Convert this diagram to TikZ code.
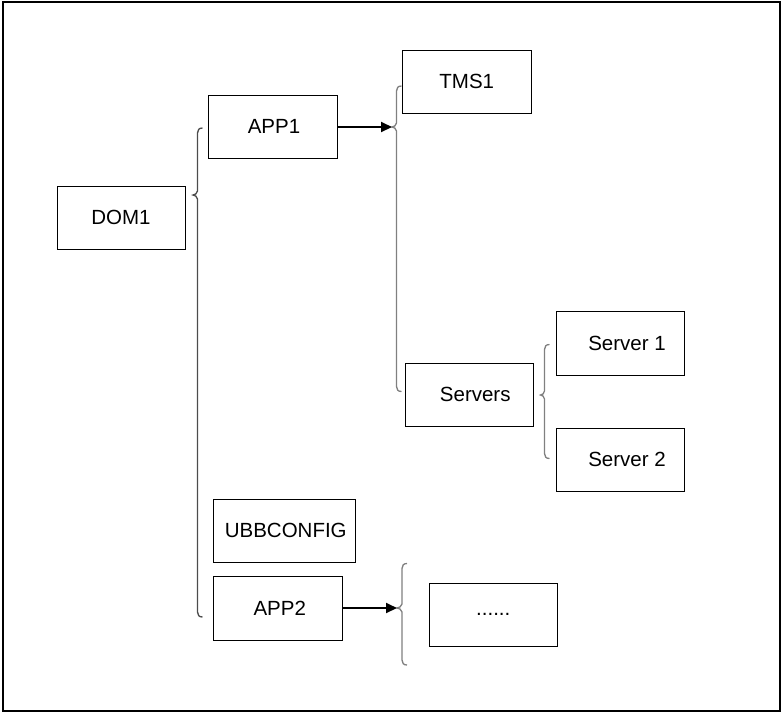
\documentclass[tikz,border=0pt]{standalone}
\usepackage{fontspec}
\setmainfont{Liberation Sans}
\usetikzlibrary{arrows.meta}
\definecolor{braceA}{gray}{0.3}
\definecolor{braceB}{gray}{0.5}
\newcommand\drawbrace[6]{% #1 style, #2 X, #3 T, #4 M, #5 B, #6 tip depth
  \draw[#1] (#2+5,#3) .. controls (#2+1.5,#3) and (#2,#3+2) .. (#2,#3+5)
    -- (#2,#4-4) .. controls (#2,#4-1.5) and (#2-#6+1.5,#4) .. (#2-#6,#4)
    .. controls (#2-#6+1.5,#4) and (#2,#4+1.5) .. (#2,#4+4)
    -- (#2,#5-5) .. controls (#2,#5-2) and (#2+1.5,#5) .. (#2+5,#5);}
\begin{document}
\begin{tikzpicture}[x=1pt,y=-1pt,
  box/.style={draw=black,line width=1pt,inner sep=0pt,
    font=\fontsize{20.5}{24}\selectfont},
  brA/.style={draw=braceA,line width=1.3pt},
  brB/.style={draw=braceB,line width=1.3pt},
  arr/.style={draw=black,line width=2pt,-{Triangle[length=11pt,width=10pt]}}]
\useasboundingbox (0,0) rectangle (782,713);
\draw[line width=2pt] (2.5,2) rectangle (780,711);
% boxes
\node[box,minimum width=128pt,minimum height=63pt] (dom) at (121,217.5) {DOM1};
\node[box,minimum width=129pt,minimum height=63pt] (app1) at (272.5,126.5) {\hspace*{3pt}APP1};
\node[box,minimum width=129.5pt,minimum height=63pt] (tms) at (466.75,81.5) {TMS1};
\node[box,minimum width=127.5pt,minimum height=63pt] (servers) at (469.25,394.5) {\hspace*{12pt}Servers};
\node[box,minimum width=128pt,minimum height=63.5pt] (s1) at (620,343.25) {\hspace*{14pt}Server 1};
\node[box,minimum width=128pt,minimum height=63pt] (s2) at (620,459.5) {\hspace*{14pt}Server 2};
\node[box,minimum width=142.5pt,minimum height=63pt] (ubb) at (284.25,530.5) {\hspace*{3pt}UBBCONFIG};
\node[box,minimum width=129.5pt,minimum height=64pt] (app2) at (277.75,608) {\hspace*{4pt}APP2};
\node[box,minimum width=128.5pt,minimum height=63pt] (dots) at (493.25,614.5) {......};
% braces
\drawbrace{brA}{197.5}{128}{195}{617}{4.5}
\drawbrace{brB}{396.5}{86}{127}{391.5}{4.5}
\drawbrace{brB}{544.5}{344.5}{395}{458.5}{4}
\drawbrace{brB}{402}{563.5}{608}{665}{5}
\coordinate (tip1) at (392,127);
\coordinate (tip2) at (397,608);
% arrows
\draw[arr] (app1.east |- tip1) -- (tip1);
\draw[arr] (app2.east |- tip2) -- (tip2);
\end{tikzpicture}
\end{document}
